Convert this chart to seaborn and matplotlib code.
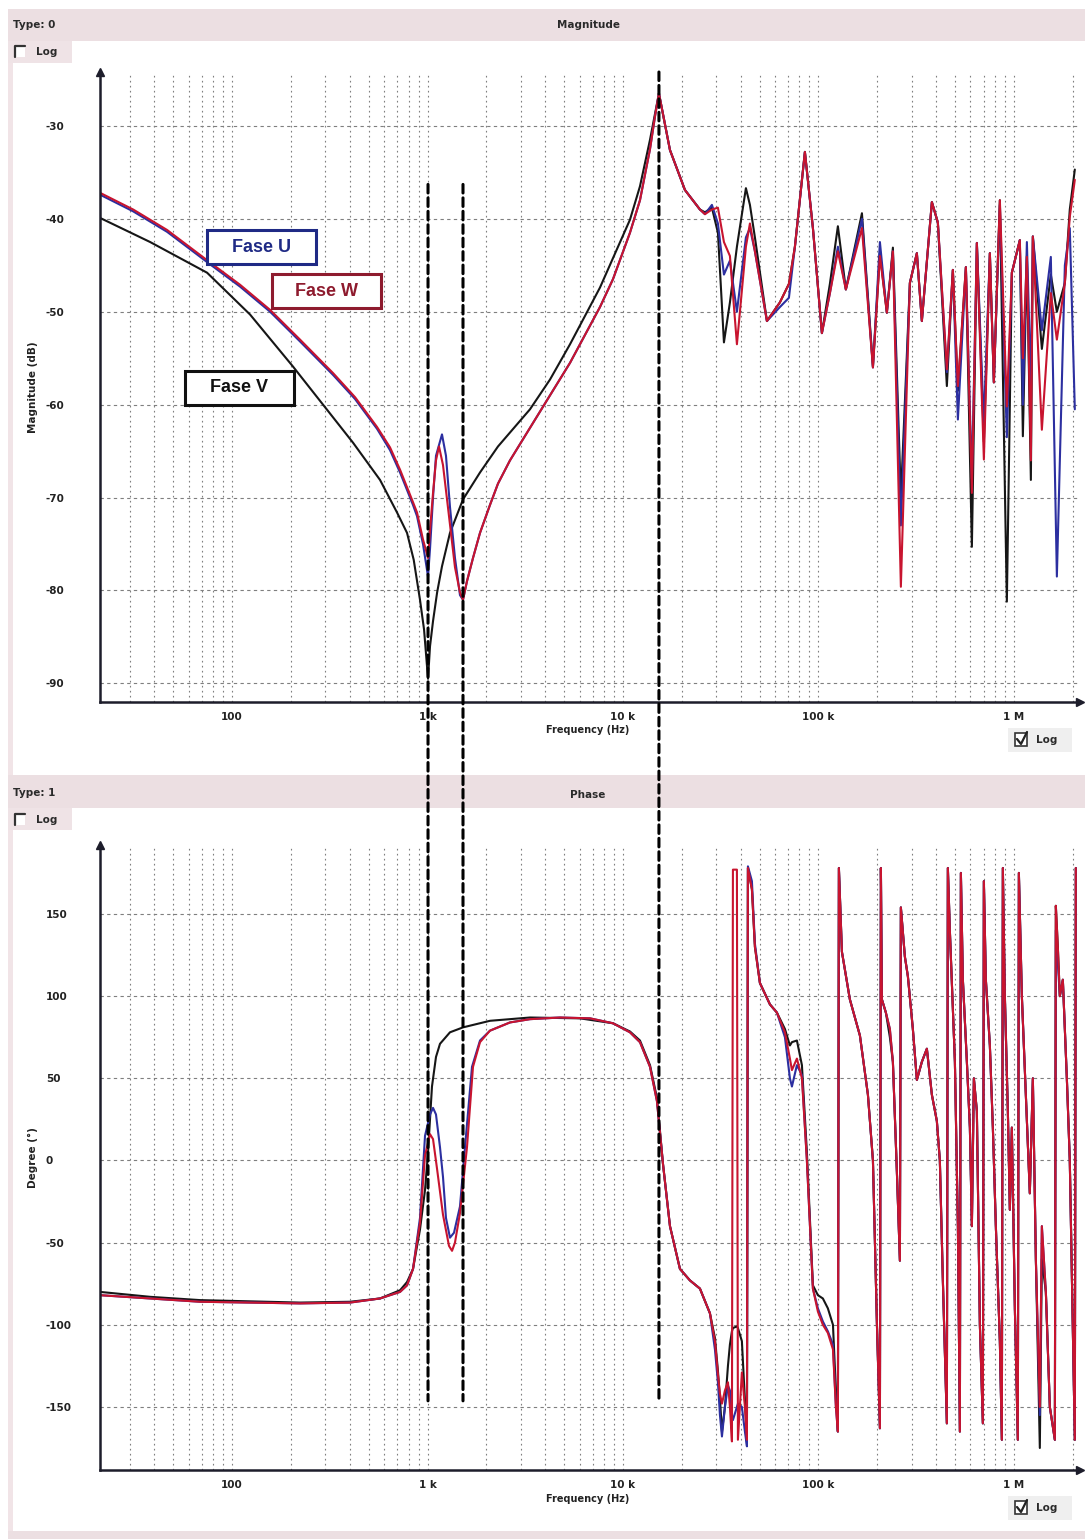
import matplotlib
matplotlib.use("Agg")
import matplotlib.pyplot as plt
from matplotlib.patches import Rectangle, ConnectionPatch
from matplotlib.lines import Line2D
from matplotlib.ticker import LogLocator, NullFormatter
import numpy as np
import pandas as pd
import seaborn as sns

# ---------------------------------------------------------------------------
# Impedance sweep per phase: magnitude (dB) and phase (degrees) vs frequency
# ---------------------------------------------------------------------------

# Magnitude, low band (Hz / dB)
MAG_W_F = [21.1, 31.2, 46.5, 77.2, 109.9, 156.5, 222.7, 328.6, 426, 551.7,
           643, 723.5, 843, 883.6, 948, 1006, 1030, 1067, 1105, 1145,
           1200, 1288, 1382, 1466, 1519, 1592, 1709, 1856, 2087, 2294,
           2642, 3344, 4233, 5360, 6780, 7627, 8889, 10860, 12220, 13750,
           14580, 15280]
MAG_W_DB = [-37.2, -39.0, -41.2, -44.7, -47.1, -49.8, -53.0, -56.6, -59.2, -62.4,
            -64.6, -67.0, -70.5, -71.6, -74.5, -76.5, -73.5, -69.5, -66.0, -64.5,
            -66.5, -72.0, -77.5, -80.2, -81.0, -79.0, -76.5, -73.8, -70.8, -68.5,
            -66.0, -62.5, -59.0, -55.5, -51.5, -49.5, -46.5, -41.5, -38.0, -32.5,
            -29.0, -26.5]

MAG_U_F = [21.1, 31.2, 46.5, 77.2, 109.9, 156.5, 222.7, 328.6, 426, 551.7,
           643, 723.5, 843, 883.6, 948, 1006, 1030, 1067, 1105, 1186,
           1243, 1303, 1382, 1466, 1519, 1592, 1709, 1856, 2087, 2294,
           2642, 3344, 4233, 5360, 6780, 7627, 8889, 10860, 12220, 13750,
           14580, 15280]
MAG_U_DB = [-37.4, -39.2, -41.4, -44.9, -47.3, -50.0, -53.2, -56.8, -59.4, -62.6,
            -64.9, -67.3, -70.8, -72.0, -75.0, -78.5, -75.5, -70.0, -65.5, -63.2,
            -65.5, -71.0, -76.5, -80.5, -81.0, -79.0, -76.5, -73.8, -70.8, -68.5,
            -66.0, -62.5, -59.0, -55.5, -51.5, -49.5, -46.5, -41.5, -38.0, -32.5,
            -29.0, -26.5]

MAG_V_F = [21.1, 38.1, 74.5, 123.6, 205, 416, 571.5, 698, 785.6, 850,
           915.2, 960, 1006, 1030, 1067, 1120, 1186, 1303, 1519, 1856,
           2294, 3344, 4233, 5360, 7627, 10860, 12220, 13750, 15280]
MAG_V_DB = [-39.9, -42.5, -45.8, -50.3, -55.9, -64.1, -68.1, -71.6, -73.8, -76.7,
            -81.0, -84.2, -89.5, -86.0, -83.3, -80.2, -77.4, -73.8, -70.2, -67.3,
            -64.5, -60.5, -57.3, -53.5, -47.4, -40.1, -36.5, -31.5, -26.5]

# Magnitude, resonance band (shared frequency grid, Hz)
MAG_HF_F = [17400, 20760, 24770, 26270, 28520, 30610, 32860, 35260, 38290, 42570,
            44630, 47330, 54530, 63500, 70660, 75830, 85290, 93740, 104200, 114500,
            125800, 138200, 167000, 190100, 206400, 224000, 240500, 264200, 293800, 319000,
            338300, 380700, 408500, 454200, 487500, 517200, 568300, 609900, 646800, 702400,
            753800, 790100, 848000, 920900, 976800, 1073000, 1112000, 1166000, 1222000, 1251000,
            1391000, 1546000, 1660000, 1824000, 1933000, 2051000]
MAG_HF_W = [-32.6, -36.9, -39.0, -39.5, -39.0, -38.8, -42.5, -44.0, -53.5, -43.0,
            -40.5, -43.5, -51.0, -49.0, -47.0, -43.0, -32.8, -41.0, -52.3, -48.0,
            -43.5, -47.6, -41.0, -56.0, -44.0, -50.1, -43.5, -79.6, -46.9, -43.7,
            -51.0, -38.2, -40.4, -56.2, -45.5, -58.0, -45.2, -69.5, -42.6, -65.9,
            -43.7, -57.6, -38.0, -60.2, -45.8, -42.3, -55.0, -44.1, -66.0, -41.9,
            -62.7, -48.0, -53.0, -46.9, -39.8, -35.8]
MAG_HF_U = [-32.6, -36.9, -39.0, -39.5, -38.5, -40.5, -46.0, -44.5, -50.0, -42.0,
            -41.0, -43.5, -51.0, -49.5, -48.5, -43.0, -32.8, -41.0, -52.3, -48.0,
            -43.0, -47.6, -40.0, -56.0, -42.5, -50.1, -43.5, -73.0, -46.9, -43.7,
            -51.0, -38.2, -40.4, -56.5, -45.5, -61.6, -45.2, -68.0, -42.6, -62.0,
            -43.7, -57.6, -38.5, -63.5, -45.8, -42.3, -60.0, -42.5, -58.0, -41.9,
            -52.0, -44.1, -78.5, -45.0, -41.0, -60.5]
MAG_HF_V = [-32.6, -36.9, -39.0, -39.3, -38.8, -41.5, -53.3, -49.0, -43.0, -36.7,
            -38.5, -42.0, -51.0, -49.0, -47.0, -43.0, -32.8, -41.0, -52.3, -47.0,
            -40.8, -47.6, -39.4, -55.9, -43.7, -50.1, -43.1, -70.0, -46.9, -43.7,
            -51.0, -38.2, -40.4, -58.0, -45.5, -58.5, -45.2, -75.3, -42.6, -64.0,
            -43.7, -57.6, -38.0, -81.2, -45.8, -42.3, -63.4, -44.0, -68.1, -41.9,
            -54.0, -46.0, -50.0, -46.9, -39.0, -34.7]

# Phase, low band (Hz / degrees)
PH_W_F = [21.1, 38.1, 68.6, 222.7, 401.5, 571.5, 723.5, 785.6, 843, 915.2,
          971, 1030, 1067, 1118.6, 1200, 1288, 1335, 1382, 1466, 1592,
          1709, 1856, 2087, 2642, 3344, 4762, 6780, 8889, 10860, 12220,
          13750, 14930, 16020, 17400, 19570, 22010, 24770]
PH_W_DEG = [-82, -84, -86, -87, -86.5, -84, -80, -76, -66, -38,
            3, 16, 13, -5, -33, -52, -55, -50, -32, 8,
            57, 72, 79, 84, 86, 87, 86.5, 83.5, 78, 72,
            57, 36, -2, -40, -66, -73, -78]

PH_U_F = [21.1, 38.1, 68.6, 222.7, 401.5, 571.5, 723.5, 785.6, 843, 915.2,
          971, 1030, 1067, 1105, 1158.5, 1200, 1243, 1303, 1366, 1466,
          1555, 1689, 1856, 2087, 2642, 3344, 4762, 6780, 8889, 10860,
          12220, 13750, 14930, 16020, 17400, 19570, 22010, 24770]
PH_U_DEG = [-82, -84, -86, -87, -86.5, -84, -80, -76, -66, -35,
            15, 28, 32, 28, 8, -10, -35, -47, -44, -28,
            8, 57, 73, 79, 84, 86, 87, 86.5, 83.5, 78,
            72, 57, 36, -2, -40, -66, -73, -78]

PH_V_F = [21.1, 38.1, 68.6, 222.7, 401.5, 571.5, 723.5, 785.6, 843, 915.2,
          971, 1006, 1054, 1105, 1158.5, 1303, 1519, 2087, 3344, 6026,
          8889, 10860, 12220, 13750, 14930, 16020, 17400, 19570, 22010, 24770]
PH_V_DEG = [-80, -83, -85, -86.5, -86, -84, -79, -74, -66, -42,
            -18, 5, 45, 63, 71, 78, 81, 85, 87, 86.5,
            83.5, 78.5, 73, 58, 38, -2, -40, -66, -73, -78]

# Phase, resonance band (shared frequency grid, Hz); wraps at +/-180 kept as-is
PH_HF_F = [27860, 29550, 30610, 31350, 32100, 33250, 34450, 35260, 36100, 36530,
           38290, 38740, 40600, 42070, 43080, 43590, 45690, 47330, 50210, 56490,
           61330, 67410, 71490, 73200, 77630, 82350, 87320, 93740, 99400, 105400,
           111800, 118700, 122900, 125800, 127300, 131900, 144900, 163100, 179200, 190100,
           199300, 206400, 208800, 211300, 221400, 232100, 240500, 252100, 261200, 264200,
           277000, 287000, 304300, 319000, 338300, 358900, 380700, 403700, 418200, 433300,
           454200, 459600, 470500, 499300, 517200, 529500, 535800, 548500, 575000, 595700,
           609900, 624400, 646800, 670100, 694100, 702400, 719100, 753800, 780900, 808900,
           848000, 868200, 878500, 899500, 931800, 953900, 976800, 1012000, 1048000, 1061000,
           1099000, 1152000, 1207000, 1251000, 1296000, 1358000, 1391000, 1458000, 1528000, 1621000,
           1640000, 1679000, 1719000, 1781000, 1867000, 1933000, 2003000, 2051000, 2075000]
PH_HF_W = [-93, -110, -130, -142, -148, -140, -135, -150, -171, 177,
           177, -170, -129, -150, -170, 178, 165, 130, 108, 95,
           90, 78, 62, 55, 62, 50, 0, -78, -92, -100,
           -105, -115, -150, -165, 178, 127, 98, 76, 40, 0,
           -100, -163, 178, 98, 90, 80, 60, -7, -61, 154,
           124, 112, 80, 49, 60, 68, 40, 24, 0, -73,
           -160, 178, 140, 60, -40, -165, 175, 110, 60, 20,
           -40, 50, 30, -100, -160, 170, 110, 70, 20, -40,
           -110, -170, 178, 100, 30, -30, 20, -90, -170, 175,
           100, 40, -20, 50, -60, -150, -40, -80, -150, -170,
           155, 130, 100, 110, 50, 0, -100, -170, 178]
# Where phases U and V depart from W in the resonance band
PH_HF_U_DIFF = {29550: -115, 30610: -135, 31350: -155, 32100: -168, 33250: -150,
                34450: -137, 35260: -140, 36100: -155, 36530: -158, 38290: -150,
                38740: -148, 40600: -150, 42070: -165, 43080: -174, 43590: 179,
                45690: 170, 47330: 132, 67410: 75, 71490: 50, 73200: 45,
                77630: 58, 82350: 52, 99400: -90, 105400: -98, 111800: -104,
                118700: -112, 1358000: -155, 1640000: 140, 1679000: 120}
PH_HF_V_DIFF = {29550: -108, 30610: -128, 31350: -145, 32100: -165, 33250: -150,
                34450: -125, 35260: -112, 36100: -104, 36530: -102, 38290: -101,
                38740: -102, 40600: -110, 42070: -146, 43080: -168, 67410: 80,
                71490: 70, 73200: 72, 77630: 73, 82350: 58, 87320: 5,
                93740: -76, 99400: -82, 105400: -84, 111800: -90, 118700: -100,
                122900: -140, 232100: 75, 1358000: -175, 1391000: -60}

# Frequencies of the notch / resonance markers (Hz)
MARKER_F = [1006, 1519, 15280]

SERIES = ["Fase V", "Fase U", "Fase W"]          # drawing order, W on top
COLORS = {"Fase U": "#2c2fa0", "Fase W": "#c8142f", "Fase V": "#161616"}
BOX_COLORS = {"Fase U": "#1f2a85", "Fase W": "#8e1b2e", "Fase V": "#111111"}

XTICKS = [100, 1e3, 1e4, 1e5, 1e6]
XTICK_LABELS = ["100", "1 k", "10 k", "100 k", "1 M"]
MAG_TICKS = [-30, -40, -50, -60, -70, -80, -90]
PH_TICKS = [150, 100, 50, 0, -50, -100, -150]


def frame(freqs, values, name):
    return pd.DataFrame({"freq": freqs, "value": values, "series": name})


ph_hf_u = [PH_HF_U_DIFF.get(f, w) for f, w in zip(PH_HF_F, PH_HF_W)]
ph_hf_v = [PH_HF_V_DIFF.get(f, w) for f, w in zip(PH_HF_F, PH_HF_W)]

mag = pd.concat([
    frame(MAG_W_F + MAG_HF_F, MAG_W_DB + MAG_HF_W, "Fase W"),
    frame(MAG_U_F + MAG_HF_F, MAG_U_DB + MAG_HF_U, "Fase U"),
    frame(MAG_V_F + MAG_HF_F, MAG_V_DB + MAG_HF_V, "Fase V"),
], ignore_index=True)
phase = pd.concat([
    frame(PH_W_F + PH_HF_F, PH_W_DEG + PH_HF_W, "Fase W"),
    frame(PH_U_F + PH_HF_F, PH_U_DEG + ph_hf_u, "Fase U"),
    frame(PH_V_F + PH_HF_F, PH_V_DEG + ph_hf_v, "Fase V"),
], ignore_index=True)

# ---------------------------------------------------------------------------
sns.set_theme(style="white")
plt.rcParams["font.family"] = ["DejaVu Sans"]
plt.rcParams["axes.unicode_minus"] = False

W_PX, H_PX = 1085, 1539
fig = plt.figure(figsize=(W_PX / 100, H_PX / 100), dpi=100, facecolor="white")


def fx(p):
    return p / W_PX


def fy(p):
    return 1 - p / H_PX


def px_rect(x0, y0, x1, y1, **kw):
    r = Rectangle((fx(x0), fy(y1)), fx(x1) - fx(x0), fy(y0) - fy(y1),
                  transform=fig.transFigure, **kw)
    fig.add_artist(r)
    return r


def px_line(xs, ys, **kw):
    fig.add_artist(Line2D([fx(x) for x in xs], [fy(y) for y in ys],
                          transform=fig.transFigure, **kw))


def px_text(x, y, s, **kw):
    fig.text(fx(x), fy(y), s, **kw)


# window chrome: title bands, side strip, option boxes
BAND = "#ecdfe2"
px_rect(8, 9, 1085, 41, facecolor=BAND, edgecolor="none", zorder=0)
px_rect(8, 775, 1085, 808, facecolor=BAND, edgecolor="none", zorder=0)
px_rect(8, 1531, 1085, 1539, facecolor=BAND, edgecolor="none", zorder=0)
px_rect(8, 41, 13, 775, facecolor="#f1e4e7", edgecolor="none", zorder=0)
px_rect(8, 808, 13, 1531, facecolor="#f1e4e7", edgecolor="none", zorder=0)
px_rect(8, 41, 72, 63, facecolor="#efe3e6", edgecolor="none", zorder=0)
px_rect(8, 808, 72, 830, facecolor="#efe3e6", edgecolor="none", zorder=0)

hdr = dict(fontsize=7.5, color="#2a2a2a", va="center", fontweight="bold")
px_text(13, 25, "Type: 0", ha="left", **hdr)
px_text(588, 25, "Magnitude", ha="center", **hdr)
px_text(13, 793, "Type: 1", ha="left", **hdr)
px_text(588, 795, "Phase", ha="center", **hdr)

for yc in (52, 820):
    px_rect(15, yc - 6, 25, yc + 5, facecolor="white", edgecolor="none", zorder=1)
    px_line([15, 15, 25], [yc + 5, yc - 6, yc - 6], color="#333333", lw=1.6, zorder=2)
    px_text(36, yc, "Log", ha="left", **hdr)

for yc in (740, 1508):
    px_rect(1008, yc - 12, 1072, yc + 12, facecolor="#efefef", edgecolor="none", zorder=1)
    px_rect(1015, yc - 7, 1027, yc + 6, facecolor="white", edgecolor="#333333", lw=1.2, zorder=2)
    px_line([1017, 1021, 1027], [yc - 1, yc + 4, yc - 8], color="#222222", lw=1.6, zorder=3)
    px_text(1036, yc, "Log", ha="left", **hdr)

# ---------------------------------------------------------------------------
ax1 = fig.add_axes([fx(100), fy(702), fx(1080) - fx(100), fy(72) - fy(702)])
ax2 = fig.add_axes([fx(100), fy(1470), fx(1080) - fx(100), fy(845) - fy(1470)])

SPINE = "#1d1d2b"
GRID = "#7f7f7f"


def style_axes(ax, ylim, yticks, ylabel, xlabel_y):
    ax.set_xscale("log")
    ax.set_facecolor("white")
    ax.set_xlim(21.1, 2.18e6)
    ax.set_ylim(*ylim)
    ax.set_xticks(XTICKS, labels=XTICK_LABELS)
    ax.xaxis.set_minor_locator(LogLocator(base=10, subs=np.arange(2, 10)))
    ax.xaxis.set_minor_formatter(NullFormatter())
    ax.set_yticks(yticks, labels=[f"{t:g}" for t in yticks])
    ax.set_axisbelow(True)
    ax.grid(True, which="both", axis="x", color=GRID, lw=0.8, ls=(0, (1.5, 3)))
    ax.grid(True, which="major", axis="y", color=GRID, lw=0.8, ls=(0, (3, 3)))
    ax.tick_params(which="both", length=0)
    ax.tick_params(axis="y", pad=39, labelsize=7.5, labelcolor="#222222")
    ax.tick_params(axis="x", pad=7, labelsize=7.5, labelcolor="#222222")
    for lab in ax.get_yticklabels():
        lab.set_ha("left")
        lab.set_fontweight("bold")
    for lab in ax.get_xticklabels():
        lab.set_fontweight("bold")
    sns.despine(ax=ax)
    for s in ("left", "bottom"):
        ax.spines[s].set_color(SPINE)
        ax.spines[s].set_linewidth(1.8)
    ax.plot(1, 0, ">", transform=ax.transAxes, clip_on=False, color=SPINE, ms=6, zorder=6)
    ax.plot(0, 1, "^", transform=ax.transAxes, clip_on=False, color=SPINE, ms=6, zorder=6)
    ax.set_ylabel(ylabel, fontsize=7.5, fontweight="bold", color="#222222")
    ax.yaxis.set_label_coords(-0.063, 0.5)
    ax.set_xlabel("Frequency (Hz)", fontsize=7, fontweight="bold", color="#222222")
    ax.xaxis.set_label_coords(0.498, xlabel_y)


for ax, df in ((ax1, mag), (ax2, phase)):
    ax.set_xscale("log")
    for name in SERIES:
        sub = df[df["series"] == name]
        sns.lineplot(data=sub, x="freq", y="value", ax=ax, color=COLORS[name],
                     linewidth=1.5, sort=False, estimator=None, errorbar=None,
                     legend=False)

style_axes(ax1, (-92.0, -24.2), MAG_TICKS, "Magnitude (dB)", -0.036)
style_axes(ax2, (-188.4, 192.0), PH_TICKS, "Degree (°)", -0.038)

# series tags
for name, (x0, y0, x1, y1) in {"Fase U": (207, 230, 316, 264),
                               "Fase W": (272, 274, 381, 308),
                               "Fase V": (185, 371, 294, 405)}.items():
    px_rect(x0, y0, x1, y1, facecolor="white", edgecolor=BOX_COLORS[name], lw=2.2, zorder=8)
    fig.text(fx((x0 + x1) / 2), fy((y0 + y1) / 2), name, ha="center", va="center",
             fontsize=13, fontweight="bold", color=BOX_COLORS[name],
             family=["Liberation Sans", "DejaVu Sans"], zorder=9)

# dashed markers running through both panels
for f, top in zip(MARKER_F, [-36.3, -36.3, -24.2]):
    con = ConnectionPatch(xyA=(f, top), coordsA="data", axesA=ax1,
                          xyB=(f, -146.3), coordsB="data", axesB=ax2,
                          color="black", lw=2.2, ls=(0, (2.8, 1.6)), zorder=12)
    fig.add_artist(con)

fig.savefig("out.png", dpi=100, facecolor="white")
